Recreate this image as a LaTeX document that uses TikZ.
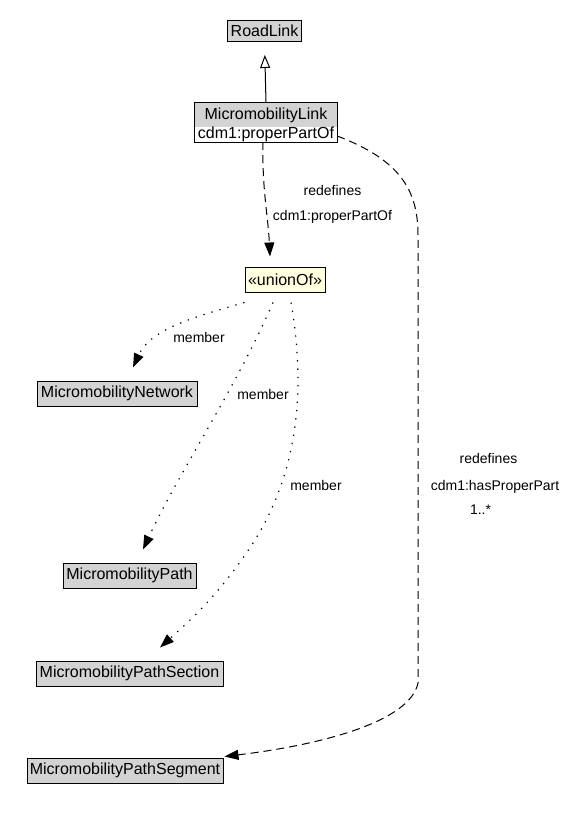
\documentclass[tikz,border=0pt]{standalone}
\usepackage{fontspec}
\setmainfont{Liberation Sans}
\usetikzlibrary{arrows.meta}
\definecolor{umlgray}{HTML}{D3D3D3}
\definecolor{umlyellow}{HTML}{FFFFE0}
\tikzset{
  cls/.style={draw=black, fill=umlgray, line width=1pt, inner sep=0pt, minimum height=25pt, font=\fontsize{16}{18}\selectfont},
  unionbox/.style={cls, fill=umlyellow},
  txt/.style={inner sep=0pt, font=\fontsize{16}{18}\selectfont},
  lbl/.style={inner sep=0pt, font=\fontsize{14}{16}\selectfont},
  dashedge/.style={line width=1pt, dash pattern=on 8pt off 5pt, -{Triangle[length=14pt,width=10pt]}},
  dotedge/.style={line width=1.2pt, dash pattern=on 1.3pt off 7pt, -{Triangle[length=14pt,width=10pt]}},
  genedge/.style={line width=1pt, -{Triangle[open,length=13pt,width=10pt,fill=white]}, shorten >=13pt}
}
\begin{document}
\begin{tikzpicture}[x=1pt,y=-1pt]
\useasboundingbox (0,0) rectangle (568,821);
% nodes
\node[cls, minimum width=74pt, minimum height=21pt] (rl) at (264.5,31) {RoadLink};
\node[inner sep=0pt, minimum width=142pt, minimum height=39pt] (ml) at (266,122.5) {};
\fill[umlgray] (ml.north west) rectangle ([yshift=-24pt]ml.north east);
\draw[line width=1pt] (ml.north west) rectangle (ml.south east);
\node[txt] (mlname) at (266,115) {MicromobilityLink};
\node[txt] (mlattr) at (266,134.5) {cdm1:properPartOf};
\node[unionbox, minimum width=80pt] (un) at (285,279.5) {«unionOf»};
\node[cls, minimum width=160pt] (mn) at (117,393.5) {MicromobilityNetwork};
\node[cls, minimum width=133pt] (mp) at (129.5,575.5) {MicromobilityPath};
\node[cls, minimum width=187pt] (mps) at (129.5,673.5) {MicromobilityPathSection};
\node[cls, minimum width=196pt] (mpg) at (125,770.5) {MicromobilityPathSegment};
% generalization
\draw[genedge] (ml.north) -- (rl.south);
% ML -> unionOf
\draw[dashedge] ([xshift=-3pt]ml.south) .. controls (262,190) and (268,215) .. ([xshift=-15pt,yshift=10pt]un.north);
\node[lbl] (l1a) at (332.5,190) {redefines};
\node[lbl] (l1b) at (332.5,217) {cdm1:properPartOf};
% ML -> Segment
\draw[dashedge] ([yshift=-13.5pt]ml.east) .. controls (400,160) and (418,190) .. (418,235) -- (418,683) .. controls (410,722) and (320,745) .. ([xshift=1pt,yshift=1pt]mpg.north east);
\node[lbl] (l2a) at (488.5,458) {redefines};
\node[lbl] (l2b) at (495,487) {cdm1:hasProperPart};
\node[lbl] (l2c) at (480.5,510) {1..*};
% unionOf members
\draw[dotedge] ([yshift=-10pt]un.south west) .. controls (190,318) and (150,330) .. ([xshift=16pt,yshift=13pt]mn.north);
\node[lbl] (m1) at (199,337) {member};
\draw[dotedge] ([xshift=-12pt,yshift=-10pt]un.south) .. controls (235,390) and (180,470) .. ([xshift=13.5pt,yshift=13pt]mp.north);
\node[lbl] (m2) at (263,394) {member};
\draw[dotedge] ([xshift=6pt,yshift=-10pt]un.south) .. controls (306,390) and (298,470) .. (255,540) .. controls (220,595) and (185,625) .. ([xshift=30.5pt,yshift=13pt]mps.north);
\node[lbl] (m3) at (316,485) {member};
\end{tikzpicture}
\end{document}
